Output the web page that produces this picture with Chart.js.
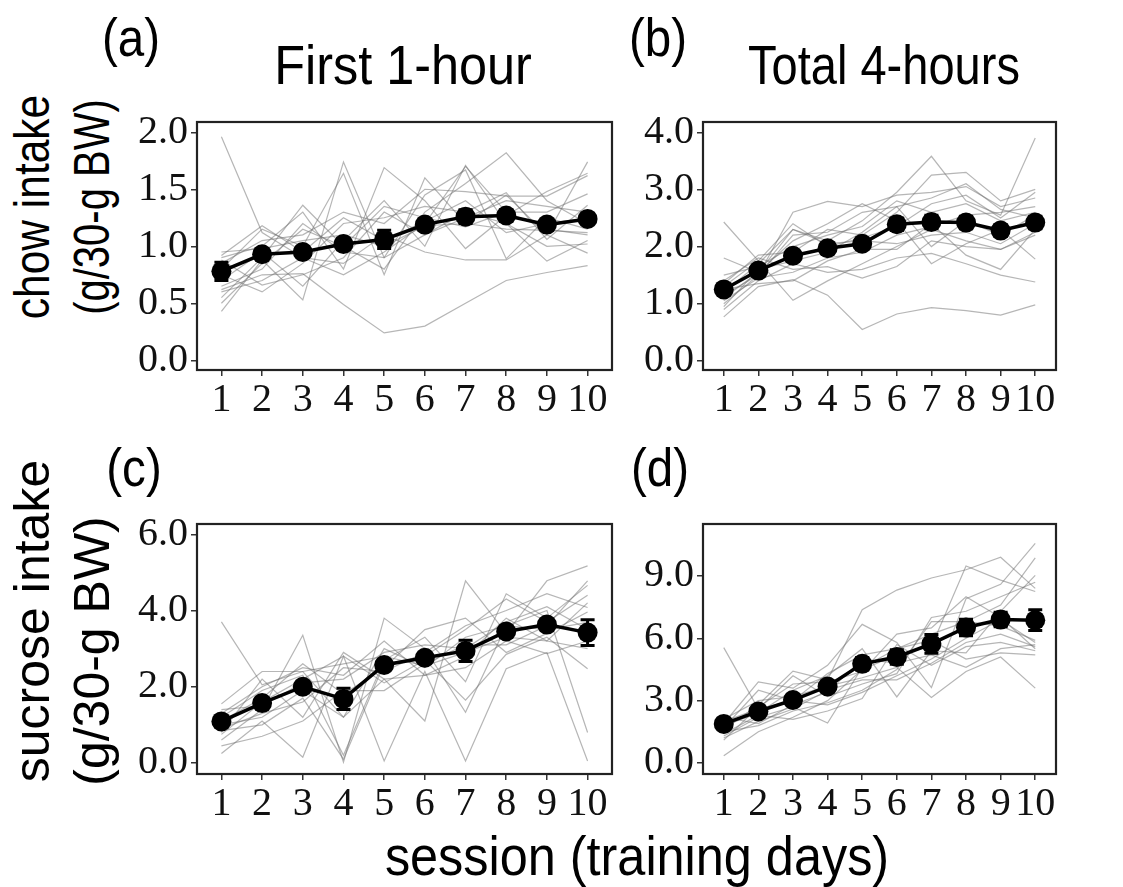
<!DOCTYPE html>
<html>
<head>
<meta charset="utf-8">
<script src="https://cdn.jsdelivr.net/npm/chart.js@4.4.1/dist/chart.umd.min.js"></script>
<style>
  body { margin: 0; background: #fff; }
  #fig { position: relative; width: 1123px; height: 887px; background: #fff; overflow: hidden; }
  #fig canvas { position: absolute; }
  .lbl { position: absolute; font-family: "Liberation Sans", Arial, sans-serif; color: #000; white-space: nowrap; line-height: 1; }
</style>
</head>
<body>
<div id="fig">
  <div class="lbl" style="left:131px;top:37px;font-size:54px;transform:translate(-50%,-50%) scaleX(0.88)">(a)</div>
  <div class="lbl" style="left:658px;top:37px;font-size:54px;transform:translate(-50%,-50%) scaleX(0.88)">(b)</div>
  <div class="lbl" style="left:134px;top:467px;font-size:54px;transform:translate(-50%,-50%) scaleX(0.88)">(c)</div>
  <div class="lbl" style="left:660px;top:467px;font-size:54px;transform:translate(-50%,-50%) scaleX(0.88)">(d)</div>
  <div class="lbl" style="left:403px;top:65px;font-size:56px;transform:translate(-50%,-50%) scaleX(0.9)">First 1-hour</div>
  <div class="lbl" style="left:884px;top:65px;font-size:56px;transform:translate(-50%,-50%) scaleX(0.84)">Total 4-hours</div>
  <div class="lbl" style="left:32px;top:207px;font-size:50px;transform:translate(-50%,-50%) rotate(-90deg) scaleX(0.85)">chow intake</div>
  <div class="lbl" style="left:92px;top:207px;font-size:50px;transform:translate(-50%,-50%) rotate(-90deg) scaleX(0.8)">(g/30-g BW)</div>
  <div class="lbl" style="left:32px;top:621px;font-size:50px;transform:translate(-50%,-50%) rotate(-90deg)">sucrose intake</div>
  <div class="lbl" style="left:92px;top:651px;font-size:50px;transform:translate(-50%,-50%) rotate(-90deg)">(g/30-g BW)</div>
  <div class="lbl" style="left:637px;top:856px;font-size:56px;transform:translate(-50%,-50%) scaleX(0.9)">session (training days)</div>
  <canvas id="pa" width="486" height="323" style="left:136px;top:95px"></canvas>
  <canvas id="pb" width="424" height="323" style="left:642px;top:95px"></canvas>
  <canvas id="pc" width="486" height="325" style="left:136px;top:497px"></canvas>
  <canvas id="pd" width="424" height="325" style="left:642px;top:497px"></canvas>
</div>
<script>
// sessions (training days)
const sessions = [1, 2, 3, 4, 5, 6, 7, 8, 9, 10];

// (a) chow, first 1-hour
const chow1hMean = [0.78, 0.93, 0.95, 1.02, 1.06, 1.19, 1.26, 1.27, 1.19, 1.24];
const chow1hSem  = [0.08, 0.03, 0.03, 0.05, 0.08, 0.05, 0.06, 0.05, 0.03, 0.04];
const chow1hMice = [
  [1.96, 1.12, 0.90, 0.75, 0.95, 1.20, 1.70, 1.30, 1.15, 1.10],
  [0.62, 0.75, 0.76, 0.49, 0.24, 0.30, 0.50, 0.70, 0.77, 0.83],
  [0.55, 0.90, 1.36, 1.00, 0.80, 1.30, 1.55, 1.82, 1.40, 1.20],
  [0.43, 0.88, 0.53, 1.74, 0.90, 1.10, 1.30, 1.20, 0.87, 1.05],
  [0.80, 1.15, 1.00, 1.64, 0.75, 1.60, 1.20, 1.45, 1.10, 1.74],
  [0.90, 1.00, 1.30, 0.80, 1.69, 1.40, 0.98, 1.27, 1.48, 1.64],
  [0.70, 0.95, 0.65, 1.05, 1.40, 1.00, 1.71, 1.20, 1.00, 1.02],
  [0.95, 0.98, 1.05, 1.10, 1.00, 1.18, 1.20, 1.15, 1.14, 1.12],
  [0.85, 1.05, 1.10, 1.30, 1.20, 1.50, 1.48, 1.44, 1.44, 1.62],
  [0.60, 0.70, 0.90, 0.85, 1.10, 0.95, 0.88, 0.88, 1.10, 0.94],
  [0.75, 0.60, 0.85, 1.20, 1.25, 1.35, 1.30, 1.47, 1.06, 1.36],
  [0.50, 0.85, 1.15, 1.00, 1.35, 1.25, 1.17, 1.30, 1.30, 1.46],
  [0.92, 1.18, 0.95, 1.25, 1.05, 1.22, 1.40, 1.12, 1.20, 1.25],
  [0.65, 0.80, 1.20, 0.95, 0.90, 1.45, 1.67, 0.89, 1.25, 1.15],
  [0.88, 0.66, 0.75, 0.90, 1.30, 1.10, 1.25, 1.40, 1.35, 1.30]
];
const chow1hTicks = [0, 0.5, 1.0, 1.5, 2.0];

// (b) chow, total 4-hours
const chow4hMean = [1.25, 1.58, 1.84, 1.97, 2.05, 2.39, 2.43, 2.42, 2.28, 2.42];
const chow4hSem  = [0.07, 0.07, 0.08, 0.09, 0.10, 0.11, 0.12, 0.11, 0.10, 0.11];
const chow4hMice = [
  [2.43, 1.75, 1.06, 1.40, 1.70, 2.00, 2.30, 2.10, 1.95, 2.25],
  [0.77, 1.30, 1.42, 1.15, 0.55, 0.82, 0.93, 0.88, 0.80, 0.98],
  [1.00, 1.50, 2.60, 2.79, 2.70, 2.90, 2.95, 3.05, 2.70, 2.85],
  [1.20, 1.70, 2.30, 2.10, 2.45, 2.95, 3.58, 2.80, 2.55, 3.90],
  [1.35, 1.85, 1.90, 2.30, 2.20, 2.60, 3.25, 3.30, 2.80, 3.00],
  [0.90, 1.40, 1.70, 1.55, 1.60, 1.80, 1.88, 1.70, 1.50, 1.38],
  [1.10, 1.55, 2.10, 2.40, 2.75, 2.45, 1.70, 2.05, 2.30, 1.78],
  [1.50, 1.65, 2.00, 2.20, 2.35, 2.80, 2.60, 2.75, 2.45, 2.60],
  [1.05, 1.45, 1.55, 1.80, 1.90, 2.20, 2.35, 2.55, 2.60, 2.70],
  [1.80, 1.55, 2.30, 2.05, 2.10, 2.05, 2.20, 2.25, 2.05, 2.40],
  [0.95, 1.60, 1.75, 1.90, 2.25, 2.70, 2.85, 3.10, 2.65, 2.50],
  [1.25, 1.35, 1.40, 1.75, 1.95, 1.95, 2.40, 1.85, 1.60, 2.30],
  [1.15, 1.50, 2.20, 2.25, 2.60, 2.70, 2.00, 2.45, 2.20, 2.55],
  [1.40, 1.80, 1.60, 1.65, 1.45, 1.65, 2.10, 2.00, 1.95, 2.20],
  [1.30, 1.75, 2.40, 2.00, 2.15, 2.35, 2.75, 2.90, 2.50, 2.95]
];
const chow4hTicks = [0, 1, 2, 3, 4];

// (c) sucrose, first 1-hour
const suc1hMean = [1.09, 1.57, 2.00, 1.68, 2.57, 2.76, 2.94, 3.45, 3.63, 3.42];
const suc1hSem  = [0.10, 0.08, 0.10, 0.28, 0.12, 0.08, 0.28, 0.08, 0.08, 0.34];
const suc1hMice = [
  [3.70, 2.05, 2.40, 2.60, 2.80, 2.55, 2.90, 3.30, 3.20, 3.00],
  [0.25, 1.10, 0.15, 2.80, 0.05, 2.40, 0.05, 2.47, 2.90, 0.05],
  [0.60, 1.40, 3.35, 0.02, 3.80, 3.00, 1.33, 3.60, 4.00, 0.80],
  [1.55, 2.40, 2.40, 1.20, 2.20, 1.10, 4.78, 3.40, 4.78, 5.17],
  [1.20, 1.90, 2.30, 0.20, 2.70, 3.30, 2.13, 4.44, 3.80, 4.66],
  [0.90, 1.30, 1.60, 2.50, 2.40, 2.90, 3.60, 4.00, 4.44, 4.08],
  [0.75, 1.60, 2.20, 2.80, 2.10, 2.70, 1.65, 2.85, 3.30, 2.47],
  [1.00, 1.20, 1.90, 1.20, 3.00, 2.50, 3.30, 3.60, 3.50, 3.69],
  [0.45, 0.70, 1.10, 1.90, 1.90, 2.60, 3.10, 3.10, 3.60, 4.78],
  [1.10, 1.70, 2.60, 1.80, 2.50, 3.50, 3.80, 2.90, 3.40, 3.96],
  [0.80, 2.20, 1.20, 2.90, 2.20, 2.30, 2.80, 3.80, 3.20, 4.20],
  [1.40, 1.50, 2.10, 2.20, 2.90, 3.10, 3.00, 3.70, 4.10, 3.50],
  [0.85, 1.00, 1.70, 0.10, 2.60, 2.80, 3.50, 4.30, 3.70, 4.40],
  [1.30, 2.00, 2.50, 2.30, 3.20, 2.30, 2.50, 3.20, 2.87, 3.20]
];
const suc1hTicks = [0, 2, 4, 6];

// (d) sucrose, total 4-hours
const suc4hMean = [1.88, 2.48, 3.03, 3.68, 4.77, 5.10, 5.73, 6.52, 6.90, 6.87];
const suc4hSem  = [0.15, 0.20, 0.20, 0.22, 0.30, 0.35, 0.45, 0.40, 0.35, 0.50];
const suc4hMice = [
  [5.55, 2.60, 3.00, 2.80, 3.40, 4.20, 5.00, 6.00, 6.90, 5.80],
  [0.35, 1.50, 2.20, 3.00, 4.50, 5.20, 5.60, 9.48, 8.80, 8.25],
  [1.60, 2.80, 4.42, 4.00, 7.38, 8.32, 8.90, 9.30, 9.90, 8.40],
  [1.90, 3.90, 3.60, 4.70, 6.67, 5.80, 3.63, 7.90, 8.60, 10.57],
  [1.30, 2.20, 2.70, 1.92, 4.60, 5.50, 6.20, 6.80, 7.60, 9.87],
  [1.80, 2.40, 3.50, 4.20, 5.50, 3.18, 5.40, 5.30, 7.30, 9.03],
  [2.10, 3.00, 3.20, 3.70, 4.10, 4.60, 3.15, 4.40, 5.10, 3.60],
  [1.50, 1.80, 2.50, 2.90, 3.50, 4.50, 6.80, 6.80, 6.60, 5.90],
  [1.20, 2.00, 2.60, 3.50, 4.00, 4.00, 4.80, 5.80, 6.20, 5.60],
  [1.70, 3.50, 3.00, 4.30, 5.20, 5.50, 5.90, 5.00, 5.30, 5.20],
  [2.00, 2.60, 4.20, 3.20, 3.80, 4.30, 7.00, 7.30, 8.00, 8.70],
  [1.40, 2.30, 2.10, 2.50, 3.10, 5.70, 4.70, 5.60, 5.80, 5.40],
  [2.20, 1.90, 2.80, 3.40, 5.00, 4.80, 5.20, 4.60, 5.50, 5.70],
  [1.10, 2.70, 3.80, 3.90, 4.40, 6.20, 6.50, 8.00, 7.00, 5.50]
];
const suc4hTicks = [0, 3, 6, 9];

// panel frame + error bars
const framePlugin = {
  id: 'frame',
  afterDraw(chart) {
    const { ctx, chartArea: a } = chart;
    ctx.save();
    ctx.strokeStyle = '#222';
    ctx.lineWidth = 2.2;
    ctx.strokeRect(a.left, a.top, a.right - a.left, a.bottom - a.top);
    ctx.restore();
  }
};

const errBarPlugin = {
  id: 'errbars',
  beforeDatasetDraw(chart, args, opts) {
    if (args.index !== 0 || !opts.sem) return;
    const { ctx, scales: { x, y } } = chart;
    const ds = chart.data.datasets[0].data;
    ctx.save();
    ctx.strokeStyle = '#000';
    ctx.lineWidth = 3;
    ds.forEach((p, i) => {
      const px = x.getPixelForValue(p.x);
      const top = y.getPixelForValue(p.y + opts.sem[i]);
      const bot = y.getPixelForValue(p.y - opts.sem[i]);
      ctx.beginPath();
      ctx.moveTo(px, top); ctx.lineTo(px, bot);
      ctx.moveTo(px - 7, top); ctx.lineTo(px + 7, top);
      ctx.moveTo(px - 7, bot); ctx.lineTo(px + 7, bot);
      ctx.stroke();
    });
    ctx.restore();
  }
};

const toPts = vals => vals.map((v, i) => ({ x: sessions[i], y: v }));

function makePanel(id, mean, sem, mice, yTicks, yMin, yMax) {
  const datasets = [{
    data: toPts(mean),
    borderColor: '#000',
    borderWidth: 3.5,
    pointRadius: 10,
    pointBackgroundColor: '#000',
    pointBorderWidth: 0,
    tension: 0
  }];
  mice.forEach(m => datasets.push({
    data: toPts(m),
    borderColor: 'rgba(110,110,110,0.5)',
    borderWidth: 1.2,
    pointRadius: 0,
    tension: 0
  }));

  const tickFont = { family: '"Liberation Serif", "Times New Roman", serif', size: 40 };
  const gridTicks = { display: true, drawOnChartArea: false, drawTicks: true, tickLength: 6, color: '#333', lineWidth: 1.5 };

  new Chart(document.getElementById(id), {
    type: 'line',
    data: { datasets },
    plugins: [framePlugin, errBarPlugin],
    options: {
      responsive: false,
      animation: false,
      events: [],
      layout: { padding: { top: 10, right: 6, left: 0, bottom: 0 } },
      plugins: {
        legend: { display: false },
        tooltip: { enabled: false },
        errbars: { sem }
      },
      scales: {
        x: {
          type: 'linear',
          min: 0.4,
          max: 10.6,
          afterBuildTicks: ax => { ax.ticks = sessions.map(v => ({ value: v })); },
          afterFit: ax => { ax.height = 48; },
          ticks: { font: tickFont, color: '#111', padding: 0, autoSkip: false, maxRotation: 0, callback: v => String(v) },
          grid: gridTicks,
          border: { display: false }
        },
        y: {
          min: yMin,
          max: yMax,
          afterBuildTicks: ax => { ax.ticks = yTicks.map(v => ({ value: v })); },
          afterFit: ax => { ax.width = 61; },
          ticks: { font: tickFont, color: '#111', padding: 3, callback: v => v.toFixed(1) },
          grid: gridTicks,
          border: { display: false }
        }
      }
    }
  });
}

makePanel('pa', chow1hMean, chow1hSem, chow1hMice, chow1hTicks, -0.085, 2.09);
makePanel('pb', chow4hMean, chow4hSem, chow4hMice, chow4hTicks, -0.16, 4.18);
makePanel('pc', suc1hMean, suc1hSem, suc1hMice, suc1hTicks, -0.29, 6.27);
makePanel('pd', suc4hMean, suc4hSem, suc4hMice, suc4hTicks, -0.53, 11.5);
</script>
</body>
</html>
